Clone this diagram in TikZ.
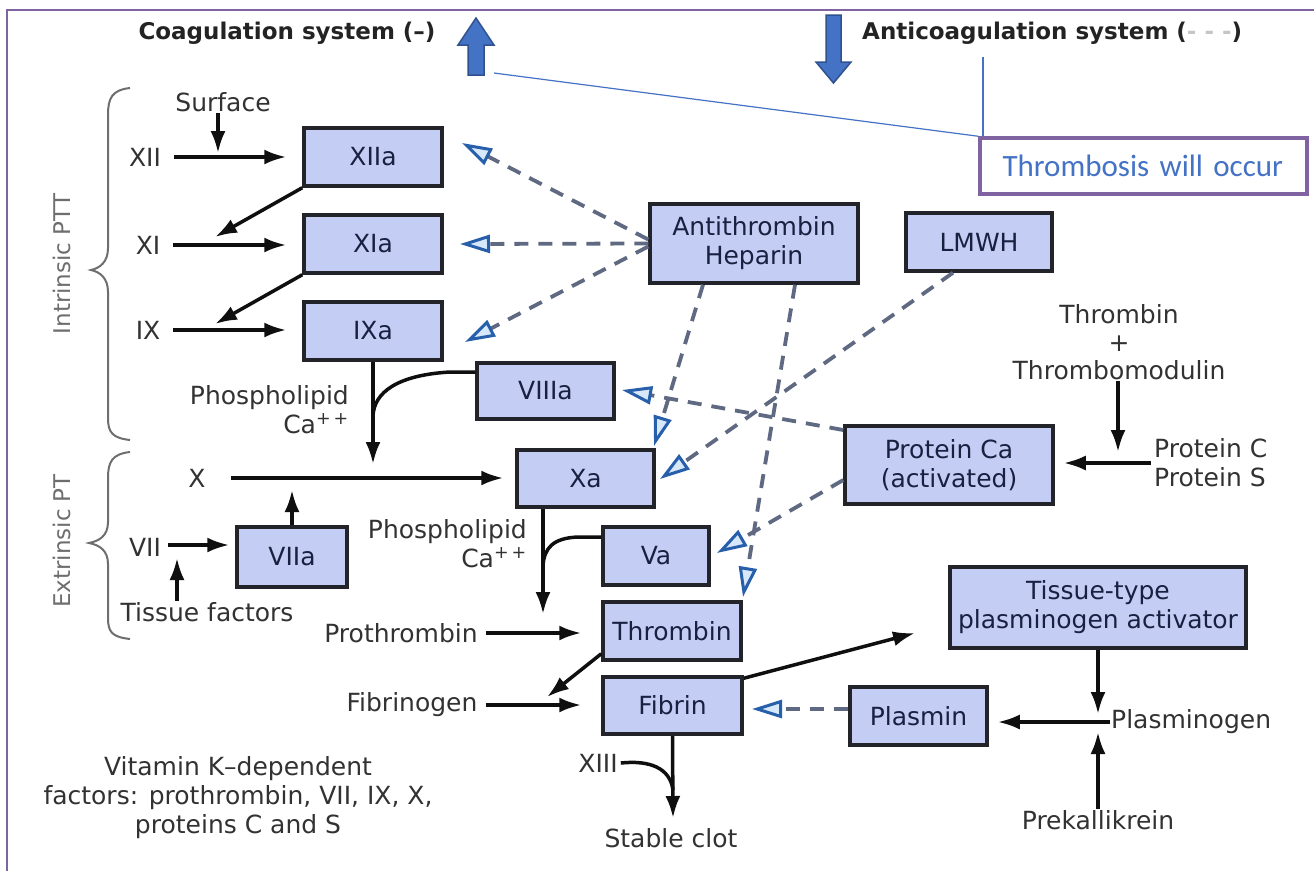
\documentclass[tikz,border=0pt]{standalone}
\usepackage{fontspec}
\setmainfont{DejaVu Sans}
\newfontfamily\calib{Carlito}
\usetikzlibrary{arrows.meta,calc}

\definecolor{boxfill}{RGB}{196,206,245}
\definecolor{boxline}{RGB}{35,35,42}
\definecolor{boxtext}{RGB}{25,33,65}
\definecolor{labc}{RGB}{50,50,50}
\definecolor{headc}{RGB}{35,35,35}
\definecolor{bracec}{RGB}{110,110,110}
\definecolor{ink}{RGB}{15,15,15}
\definecolor{dashc}{RGB}{95,105,130}
\definecolor{tipline}{RGB}{40,95,170}
\definecolor{tipfill}{RGB}{215,232,250}
\definecolor{slideblue}{RGB}{68,114,196}
\definecolor{slidedark}{RGB}{47,82,143}
\definecolor{slidepurple}{RGB}{128,100,162}

\newcommand{\labfont}{\fontsize{25}{29}\selectfont}

\begin{document}
\begin{tikzpicture}[x=1pt,y=-1pt,
  box/.style={draw=boxline, line width=3.5pt, fill=boxfill, text=boxtext,
    font=\labfont, inner sep=0pt, align=center},
  lab/.style={text=labc, font=\labfont, inner sep=1pt, align=center},
  arr/.style={draw=ink, line width=3.5pt, -{Latex[length=22pt,width=15pt]}},
  link/.style={draw=ink, line width=3.5pt},
  inh/.style={draw=dashc, line width=3.8pt, dash pattern=on 14pt off 10pt,
    -{Triangle[length=30pt,width=18pt,line width=3pt,color=tipline,fill=tipfill]}},
  brc/.style={draw=bracec, line width=2pt},
  side/.style={text=bracec, font=\fontsize{23}{26}\selectfont, rotate=90},
  head/.style={text=headc, font=\bfseries\fontsize{23}{26}\selectfont, inner sep=0pt},
  blockarrow/.style={fill=slideblue, draw=slidedark, line width=1.5pt},
  callout/.style={draw=slideblue, line width=1.2pt}
]
\useasboundingbox (0,0) rectangle (1314,871);
\fill[white] (0,0) rectangle (1314,871);

% slide frame
\draw[slidepurple, line width=2.5pt] (7,871) -- (7,10) -- (1314,10);

% headings with block arrows
\node[head] (coag) at (287,33) {Coagulation system (--)};
\node[head, anchor=west] (anticoag) at (862,33) {Anticoagulation system (\textcolor{gray!45}{- - -})};
\draw[blockarrow] (468,75) -- (468,45) -- (458,45) -- (476,18) -- (494,45) -- (484,45) -- (484,75) -- cycle;
\draw[blockarrow] (826,15) -- (841,15) -- (841,62) -- (851,62) -- (833.5,83) -- (816,62) -- (826,62) -- cycle;
\coordinate (upfoot) at (494,73);
\coordinate (antifoot) at (983,57);

% callout
\node[draw=slidepurple, line width=3.5pt, minimum width=327pt, minimum height=56pt,
  text width=282pt, align=left, text=slideblue, font=\calib\fontsize{31}{34}\selectfont,
  inner sep=0pt] (tb) at (1143.5,166) {Thrombosis will occur};
\draw[callout] (upfoot) -- (tb.north west);
\draw[callout] (antifoot) -- (antifoot |- tb.north west);

% braces and side labels
\draw[brc] (130,88) .. controls (112,90) and (108,98) .. (108,115) -- (108,248)
  .. controls (108,262) and (100,268) .. (91,270) .. controls (100,272) and (108,278) .. (108,292)
  -- (108,418) .. controls (108,432) and (112,438) .. (130,440);
\draw[brc] (130,452) .. controls (112,454) and (108,462) .. (108,478) -- (108,522)
  .. controls (108,536) and (99,541) .. (89,543) .. controls (99,545) and (108,550) .. (108,564)
  -- (108,618) .. controls (108,632) and (112,637) .. (130,639);
\node[side] (intr) at (62,264) {Intrinsic PTT};
\node[side] (extr) at (62,541) {Extrinsic PT};

% boxes
\node[box, minimum width=138pt, minimum height=58pt] (xiia) at (373,157) {XIIa};
\node[box, minimum width=138pt, minimum height=58pt] (xia) at (373,244) {XIa};
\node[box, minimum width=138pt, minimum height=58pt] (ixa) at (373,331) {IXa};
\node[box, minimum width=137pt, minimum height=56pt] (viiia) at (545.5,391) {VIIIa};
\node[box, minimum width=137pt, minimum height=57pt] (xa) at (585.5,478.5) {Xa};
\node[box, minimum width=110pt, minimum height=60pt] (viia) at (292,557) {VIIa};
\node[box, minimum width=106pt, minimum height=58pt] (va) at (656,556) {Va};
\node[box, minimum width=138pt, minimum height=58pt] (thrombin) at (672,631) {Thrombin};
\node[box, minimum width=139pt, minimum height=57pt] (fibrin) at (672.5,705.5) {Fibrin};
\node[box, minimum width=208pt, minimum height=79pt] (at) at (754,243.5) {Antithrombin\\Heparin};
\node[box, minimum width=146pt, minimum height=58pt] (lmwh) at (979,242) {LMWH};
\node[box, minimum width=208pt, minimum height=78pt] (pca) at (949,465) {Protein Ca\\(activated)};
\node[box, minimum width=296pt, minimum height=81pt] (tpa) at (1098,607.5) {Tissue-type\\plasminogen activator};
\node[box, minimum width=137pt, minimum height=58pt] (plasmin) at (918.5,716) {Plasmin};

% plain labels
\node[lab] (surface) at (223,102) {Surface};
\node[lab] (xii) at (145,157) {XII};
\node[lab] (xi) at (148,245) {XI};
\node[lab] (ix) at (148,330) {IX};
\node[lab, anchor=east, align=right] (ph1) at (350,410) {Phospholipid\\Ca\textsuperscript{+\,+}};
\node[lab] (x) at (197,478) {X};
\node[lab] (vii) at (145,547) {VII};
\node[lab] (tf) at (207,612) {Tissue factors};
\node[lab, anchor=east, align=right] (ph2) at (528,544) {Phospholipid\\Ca\textsuperscript{+\,+}};
\node[lab] (prothrombin) at (401,633) {Prothrombin};
\node[lab] (fibrinogen) at (412,705) {Fibrinogen};
\node[lab] (xiii) at (598,763) {XIII};
\node[lab] (clot) at (671,838) {Stable clot};
\node[lab] (vitk) at (238,798) {Vitamin K--dependent\\factors: prothrombin, VII, IX, X,\\proteins C and S};
\node[lab, font=\fontsize{25}{28}\selectfont] (ttm) at (1119,342) {Thrombin\\+\\Thrombomodulin};
\node[lab, anchor=west, align=left] (pcs) at (1153,463) {Protein C\\Protein S};
\node[lab, anchor=west] (plg) at (1110,722) {Plasminogen};
\node[lab] (prek) at (1098,820) {Prekallikrein};

% junction points
\coordinate (sj) at (218,153);
\coordinate (c1) at (215,237);
\coordinate (c2) at (215,324);
\coordinate (xin) at (373,464);
\coordinate (viiup) at (292,490);
\coordinate (tfup) at (177,558);
\coordinate (xadn) at (543,614);
\coordinate (fgj) at (547,697);
\coordinate (clotdn) at (673,818);
\coordinate (tpatip) at (915,633);
\coordinate (pj1) at (1098,714);
\coordinate (pj2) at (1098,732);
\coordinate (ttmdn) at (1118,452);

% intrinsic pathway
\draw[arr] (sj |- surface.south) -- (sj);
\draw[arr, shorten <=12pt, shorten >=16pt] (xii.east) -- (xii.east -| xiia.west);
\draw[arr, shorten <=12pt, shorten >=16pt] (xi.east) -- (xi.east -| xia.west);
\draw[arr, shorten <=12pt, shorten >=16pt] (ix.east) -- (ix.east -| ixa.west);
\draw[arr] (xiia.south west) -- (c1);
\draw[arr] (xia.south west) -- (c2);
\draw[arr] (ixa.south) -- (xin);
\draw[link] ([yshift=19pt]viiia.west) -- (450,372) .. controls (398,375) and (374,392) .. (373,416);

% extrinsic pathway
\draw[arr, shorten <=24pt, shorten >=12pt] (x.east) -- (x.east -| xa.west);
\draw[arr] (viia.north) -- (viiup);
\draw[arr, shorten <=6pt, shorten >=6pt] ([yshift=2pt]vii.east) -- ([yshift=2pt]vii.east -| viia.west);
\draw[arr] (tfup |- tf.north) -- (tfup);

% common pathway
\draw[arr] (xadn |- xa.south) -- (xadn);
\draw[link] ([yshift=19pt]va.west) -- (578,537) .. controls (553,538) and (544,548) .. (543,566);
\draw[arr, shorten <=7pt, shorten >=20pt] (prothrombin.east) -- (prothrombin.east -| thrombin.west);
\draw[arr, shorten <=7pt, shorten >=20pt] (fibrinogen.east) -- (fibrinogen.east -| fibrin.west);
\draw[arr] ([yshift=8pt]thrombin.south west) -- (fgj);
\draw[arr] (fibrin.south) -- (clotdn);
\draw[link] ([xshift=2pt]xiii.east) .. controls (650,760) and (670,768) .. (673,790);

% fibrinolysis
\draw[arr] ([yshift=-3pt]fibrin.north east) -- (tpatip);
\draw[arr] (pj1 |- tpa.south) -- (pj1);
\draw[arr, shorten >=9pt] (plg.west) -- (plg.west -| plasmin.east);
\draw[arr] (pj2 |- prek.north) -- (pj2);

% protein C activation
\draw[arr] (ttmdn |- ttm.south) -- (ttmdn);
\draw[arr, shorten <=2pt, shorten >=9pt] (pcs.west) -- (pcs.west -| pca.east);

% inhibitory links
\coordinate (t1) at (462,143);
\coordinate (t2) at (460,244);
\coordinate (t3) at (465,342);
\coordinate (t4) at (654,446);
\coordinate (t5) at (743,597);
\coordinate (t6) at (660,479);
\coordinate (t7) at (622,390);
\coordinate (t8) at (717,553);
\coordinate (t9) at (752,709);
\draw[inh] ([yshift=4pt]at.west) -- (t1);
\draw[inh] (at.west) -- (t2);
\draw[inh] ([yshift=-3pt]at.west) -- (t3);
\draw[inh] ([xshift=-51pt]at.south) -- (t4);
\draw[inh] ([xshift=41pt]at.south) -- (t5);
\draw[inh] ([xshift=-26pt]lmwh.south) -- (t6);
\draw[inh] ([yshift=35pt]pca.west) -- (t7);
\draw[inh] ([yshift=-15pt]pca.west) -- (t8);
\draw[inh] ([yshift=7pt]plasmin.west) -- (t9);
\end{tikzpicture}
\end{document}
